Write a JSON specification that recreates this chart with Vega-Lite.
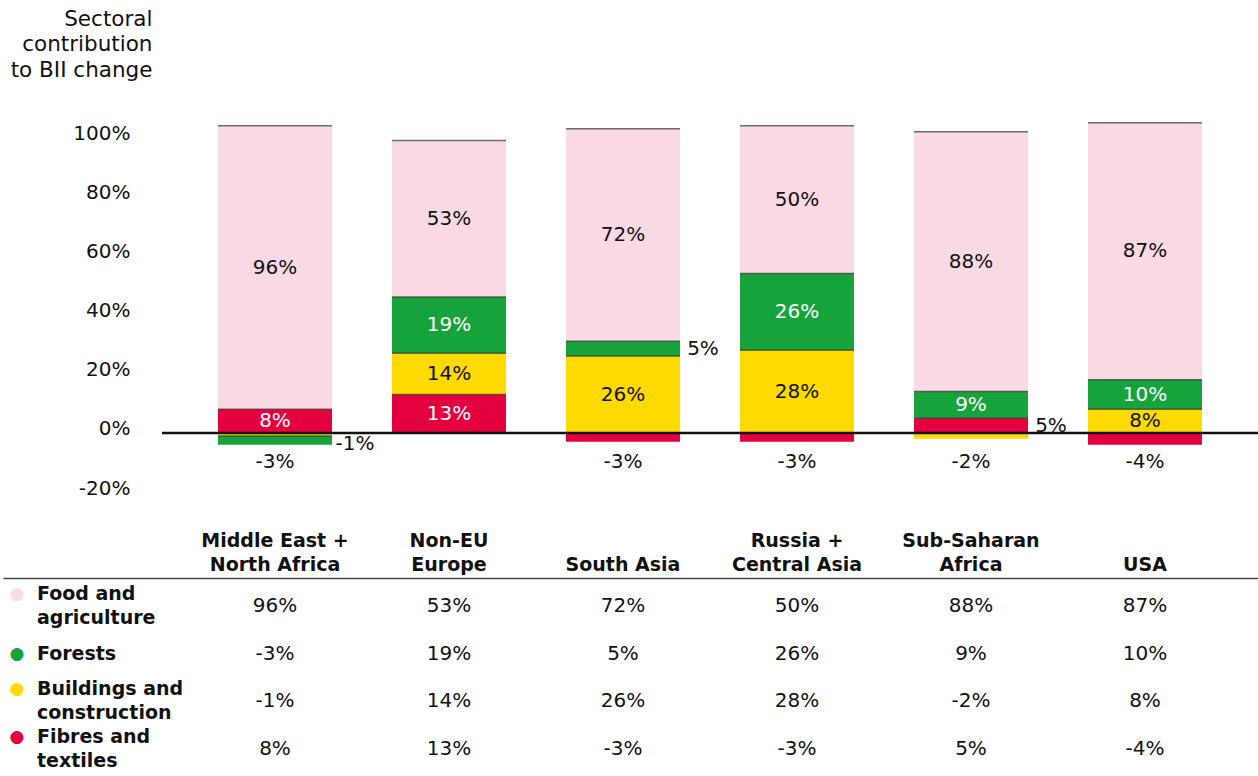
{
  "$schema": "https://vega.github.io/schema/vega-lite/v6.json",
  "padding": {"left": 3, "top": 8, "right": 0, "bottom": 0},
  "background": "white",
  "config": {"view": {"stroke": null}, "font": "DejaVu Sans", "text": {"font": "DejaVu Sans", "fontSize": 20, "color": "#111"}},
  "data": {"values": [
    {"region": "Middle East + North Africa", "sector": "Food and agriculture", "value": 96},
    {"region": "Middle East + North Africa", "sector": "Forests", "value": -3},
    {"region": "Middle East + North Africa", "sector": "Buildings and construction", "value": -1},
    {"region": "Middle East + North Africa", "sector": "Fibres and textiles", "value": 8},
    {"region": "Non-EU Europe", "sector": "Food and agriculture", "value": 53},
    {"region": "Non-EU Europe", "sector": "Forests", "value": 19},
    {"region": "Non-EU Europe", "sector": "Buildings and construction", "value": 14},
    {"region": "Non-EU Europe", "sector": "Fibres and textiles", "value": 13},
    {"region": "South Asia", "sector": "Food and agriculture", "value": 72},
    {"region": "South Asia", "sector": "Forests", "value": 5},
    {"region": "South Asia", "sector": "Buildings and construction", "value": 26},
    {"region": "South Asia", "sector": "Fibres and textiles", "value": -3},
    {"region": "Russia + Central Asia", "sector": "Food and agriculture", "value": 50},
    {"region": "Russia + Central Asia", "sector": "Forests", "value": 26},
    {"region": "Russia + Central Asia", "sector": "Buildings and construction", "value": 28},
    {"region": "Russia + Central Asia", "sector": "Fibres and textiles", "value": -3},
    {"region": "Sub-Saharan Africa", "sector": "Food and agriculture", "value": 88},
    {"region": "Sub-Saharan Africa", "sector": "Forests", "value": 9},
    {"region": "Sub-Saharan Africa", "sector": "Buildings and construction", "value": -2},
    {"region": "Sub-Saharan Africa", "sector": "Fibres and textiles", "value": 5},
    {"region": "USA", "sector": "Food and agriculture", "value": 87},
    {"region": "USA", "sector": "Forests", "value": 10},
    {"region": "USA", "sector": "Buildings and construction", "value": 8},
    {"region": "USA", "sector": "Fibres and textiles", "value": -4}
  ]},
  "transform": [
    {"calculate": "indexof(['Fibres and textiles','Buildings and construction','Forests','Food and agriculture'], datum.sector)", "as": "ord"},
    {"calculate": "datum.value + '%'", "as": "label"},
    {"calculate": "replace(datum.sector, ' and ', ' and\\n')", "as": "rowlabel"}
  ],
  "spacing": 33,
  "vconcat": [
    {
      "width": 1255,
      "height": 384,
      "transform": [
        {"stack": "value", "groupby": ["region"], "sort": [{"field": "ord", "order": "ascending"}], "as": ["y0", "y1"]},
        {"calculate": "(datum.y0 + datum.y1) / 2", "as": "mid"}
      ],
      "encoding": {
        "x": {"field": "region", "type": "nominal", "axis": null,
          "scale": {"type": "band", "domain": ["rows", "Middle East + North Africa", "Non-EU Europe", "South Asia", "Russia + Central Asia", "Sub-Saharan Africa", "USA"], "paddingInner": 0, "paddingOuter": 0.1063, "align": 0.297}}
      },
      "layer": [
        {
          "mark": {"type": "bar", "width": {"band": 0.655}},
          "encoding": {
            "y": {"field": "y0", "type": "quantitative",
              "scale": {"domain": [-20, 110], "nice": false, "zero": false},
              "axis": {"values": [-20, 0, 20, 40, 60, 80, 100], "labelExpr": "datum.value + '%'", "domain": false, "ticks": false, "tickSize": 0, "grid": false, "labelPadding": 0, "labelOffset": -4, "offset": -127, "labelFontSize": 20, "labelColor": "#111", "labelFont": "DejaVu Sans",
                "title": ["Sectoral", "contribution", "to BII change"], "titleAngle": 0, "titleAlign": "right", "titleBaseline": "alphabetic", "titleX": 22, "titleY": -83, "titleFontSize": 21.5, "titleFontWeight": "normal", "titleLineHeight": 25.5, "titleColor": "#111", "titleFont": "DejaVu Sans"}},
            "y2": {"field": "y1"},
            "color": {"field": "sector", "type": "nominal", "legend": null,
              "scale": {"domain": ["Food and agriculture", "Forests", "Buildings and construction", "Fibres and textiles"], "range": ["#F9D9E3", "#17A33B", "#FFDA00", "#E4003F"]}}
          }
        },
        {
          "transform": [{"filter": "datum.y0 != 0"}],
          "mark": {"type": "tick", "size": 114, "thickness": 1.5, "color": "#333"},
          "encoding": {"y": {"field": "y0", "type": "quantitative"}}
        },
        {
          "transform": [{"filter": "datum.ord == 3"}],
          "mark": {"type": "tick", "size": 114, "thickness": 1.5, "color": "#333"},
          "encoding": {"y": {"field": "y1", "type": "quantitative"}}
        },
        {
          "data": {"values": [{}]},
          "mark": {"type": "rule", "color": "#111", "strokeWidth": 2.5},
          "encoding": {
            "y": {"datum": 0, "type": "quantitative"},
            "x": {"datum": "rows", "type": "nominal", "bandPosition": 0.8506, "axis": null},
            "x2": {"datum": "USA", "bandPosition": 1.1494}
          }
        },
        {
          "transform": [{"filter": "abs(datum.value) >= 8 && (datum.ord == 0 || datum.ord == 2)"}],
          "mark": {"type": "text", "color": "white", "fontSize": 20},
          "encoding": {"y": {"field": "mid", "type": "quantitative"}, "text": {"field": "label"}}
        },
        {
          "transform": [{"filter": "abs(datum.value) >= 8 && (datum.ord == 1 || datum.ord == 3)"}],
          "mark": {"type": "text", "color": "#111", "fontSize": 20},
          "encoding": {"y": {"field": "mid", "type": "quantitative"}, "text": {"field": "label"}}
        },
        {
          "transform": [{"filter": "datum.value > 0 && datum.value < 8"}],
          "mark": {"type": "text", "color": "#111", "fontSize": 20, "dx": 80},
          "encoding": {"y": {"field": "mid", "type": "quantitative"}, "text": {"field": "label"}}
        },
        {
          "transform": [{"filter": "datum.value < 0 && datum.value > -2"}],
          "mark": {"type": "text", "color": "#111", "fontSize": 20, "dx": 80, "dy": 10},
          "encoding": {"y": {"field": "mid", "type": "quantitative"}, "text": {"field": "label"}}
        },
        {
          "transform": [{"filter": "datum.value <= -2"}],
          "mark": {"type": "text", "color": "#111", "fontSize": 20},
          "encoding": {"y": {"datum": -10, "type": "quantitative"}, "text": {"field": "label"}}
        }
      ]
    },
    {
      "width": 1255,
      "height": 196,
      "encoding": {
        "x": {"field": "region", "type": "nominal",
          "scale": {"type": "band", "domain": ["rows", "Middle East + North Africa", "Non-EU Europe", "South Asia", "Russia + Central Asia", "Sub-Saharan Africa", "USA"], "paddingInner": 0, "paddingOuter": 0.1063, "align": 0.297}},
        "y": {"field": "sector", "type": "nominal", "axis": null,
          "scale": {"type": "band", "domain": ["Food and agriculture", "Forests", "Buildings and construction", "Fibres and textiles"], "paddingInner": 0, "paddingOuter": 0.05, "align": 0.8}}
      },
      "layer": [
        {
          "mark": {"type": "text", "fontSize": 20, "color": "#111"},
          "encoding": {
            "text": {"field": "label"},
            "x": {"field": "region", "type": "nominal",
              "axis": {"orient": "top", "title": null, "labelAngle": 0, "labelOverlap": false, "labelLimit": 0,
                "labelExpr": "datum.label == 'Middle East + North Africa' ? ['Middle East +', 'North Africa'] : datum.label == 'Non-EU Europe' ? ['Non-EU', 'Europe'] : datum.label == 'Russia + Central Asia' ? ['Russia +', 'Central Asia'] : datum.label == 'Sub-Saharan Africa' ? ['Sub-Saharan', 'Africa'] : datum.label == 'rows' ? '' : ['', datum.label]",
                "labelFontWeight": "bold", "labelFontSize": 19, "labelFont": "DejaVu Sans", "labelColor": "#111", "labelPadding": 28, "labelLineHeight": 24,
                "ticks": false, "tickSize": 0, "domain": true, "domainColor": "#444", "domainWidth": 1.5, "grid": false}}
          }
        },
        {
          "mark": {"type": "text", "text": ""},
          "encoding": {
            "x": {"field": "region", "type": "nominal",
              "axis": {"orient": "bottom", "title": null, "labels": false, "ticks": false, "tickSize": 0, "domain": true, "domainColor": "#bbb", "domainWidth": 1, "domainDash": [1, 3], "grid": false}}
          }
        },
        {
          "transform": [{"filter": "datum.region == 'USA' && datum.sector != 'Forests'"}],
          "mark": {"type": "text", "align": "left", "fontWeight": "bold", "lineBreak": "\n", "lineHeight": 24, "fontSize": 19, "color": "#111", "dy": -12},
          "encoding": {
            "x": {"datum": "rows", "type": "nominal", "bandPosition": 0.132, "axis": null},
            "text": {"field": "rowlabel"}
          }
        },
        {
          "transform": [{"filter": "datum.region == 'USA' && datum.sector == 'Forests'"}],
          "mark": {"type": "text", "align": "left", "fontWeight": "bold", "fontSize": 19, "color": "#111"},
          "encoding": {
            "x": {"datum": "rows", "type": "nominal", "bandPosition": 0.132, "axis": null},
            "text": {"field": "sector"}
          }
        },
        {
          "transform": [{"filter": "datum.region == 'USA' && datum.sector != 'Forests'"}],
          "mark": {"type": "text", "text": "●", "font": "DejaVu Sans", "fontSize": 17, "dy": -12},
          "encoding": {
            "x": {"datum": "rows", "type": "nominal", "bandPosition": 0.017, "axis": null},
            "color": {"field": "sector", "type": "nominal", "legend": null}
          }
        },
        {
          "transform": [{"filter": "datum.region == 'USA' && datum.sector == 'Forests'"}],
          "mark": {"type": "text", "text": "●", "font": "DejaVu Sans", "fontSize": 17},
          "encoding": {
            "x": {"datum": "rows", "type": "nominal", "bandPosition": 0.017, "axis": null},
            "color": {"field": "sector", "type": "nominal", "legend": null}
          }
        }
      ]
    }
  ]
}
